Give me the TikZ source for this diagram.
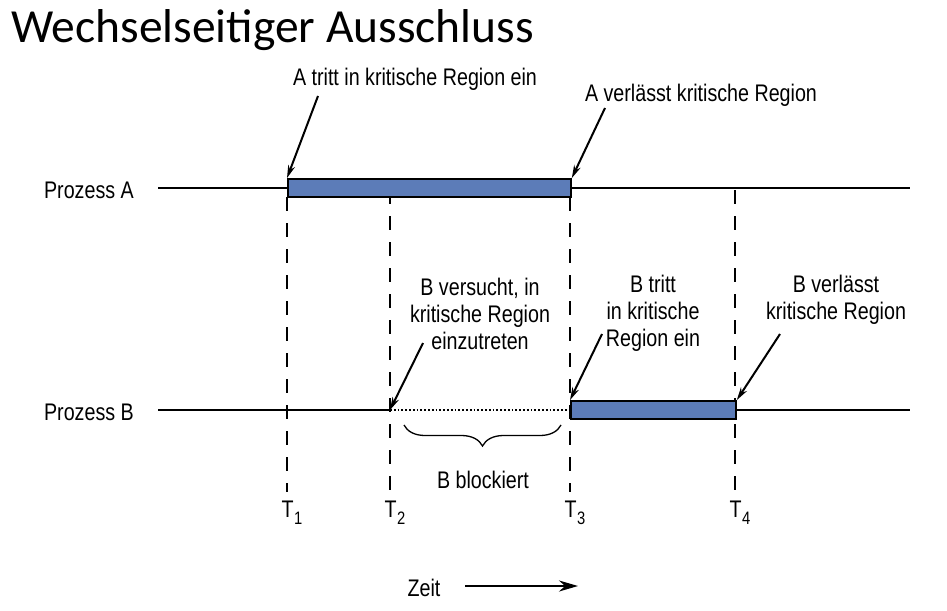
\documentclass[tikz,border=0pt]{standalone}
\usepackage{fontspec}
\setmainfont{Liberation Sans}
\newfontfamily\titlefont{Carlito}
\newfontfamily\lblfont[FakeStretch=0.82]{Liberation Sans}
\usetikzlibrary{arrows.meta,decorations.pathreplacing}
\definecolor{critblue}{RGB}{92,124,184}
\newcommand{\tmark}[1]{T\kern0.5pt\raisebox{-7pt}{\fontsize{18}{18}\selectfont #1}}
\begin{document}
\begin{tikzpicture}[x=1pt,y=-1pt,
  lbl/.style={font=\lblfont\fontsize{24}{27}\selectfont, inner sep=0pt, align=center},
  timeline/.style={line width=1.8pt},
  critbar/.style={draw=black, line width=1.8pt, fill=critblue},
  marker/.style={line width=1.5pt, dash pattern=on 14pt off 12pt},
  pointer/.style={line width=2pt, -{Stealth[length=13pt,width=7pt]}},
]
\useasboundingbox (0,0) rectangle (947,610);

% title
\node[anchor=base west, inner sep=0pt, font=\titlefont\fontsize{47.5}{52}\selectfont] (title) at (11,43) {Wechselseitiger Ausschluss};

% process labels
\node[lbl, anchor=base east] (pa) at (134,198) {Prozess A};
\node[lbl, anchor=base east] (pb) at (134,420) {Prozess B};

% points on the time axes
\coordinate (a0) at (158,188);
\coordinate (a1) at (287,188);
\coordinate (a3) at (570,188);
\coordinate (a4) at (735,188);
\coordinate (aend) at (910,188);
\coordinate (b0) at (158,410);
\coordinate (b2) at (390,410);
\coordinate (b3) at (570,410);
\coordinate (b4) at (735,410);
\coordinate (bend) at (910,410);

% time markers
\foreach \x/\y in {287/197, 390/190, 570/197, 735/190}
  \draw[marker] (\x,\y) -- (\x,492);

% process A
\draw[timeline] (a0) -- (a1);
\draw[timeline] (a3) -- (aend);
\node[critbar, minimum width=283pt, minimum height=18pt, inner sep=0pt, anchor=west] (cra) at (a1) {};

% process B
\draw[timeline] (b0) -- (b2);
\draw[line width=1.8pt, dotted] (b2) -- (b3);
\draw[timeline] (b4) -- (bend);
\node[critbar, minimum width=165pt, minimum height=18pt, inner sep=0pt, anchor=west] (crb) at (b3) {};

% time labels
\node[lbl, anchor=base] (t1) at (292,517) {\tmark{1}};
\node[lbl, anchor=base] (t2) at (395,517) {\tmark{2}};
\node[lbl, anchor=base] (t3) at (575,517) {\tmark{3}};
\node[lbl, anchor=base] (t4) at (740,517) {\tmark{4}};

% annotations
\node[lbl, anchor=base] (ain) at (415,85) {A tritt in kritische Region ein};
\node[lbl, anchor=base] (aout) at (701,101) {A verlässt kritische Region};
\node[lbl, anchor=base] (btry) at (480,349) {B versucht, in\\kritische Region\\einzutreten};
\node[lbl, anchor=base] (bin) at (653,346) {B tritt\\in kritische\\Region ein};
\node[lbl, anchor=base] (bout) at (836,319) {B verlässt\\kritische Region};

\draw[pointer] (318,96) -- (cra.north west);
\draw[pointer] (605,108) -- (cra.north east);
\draw[pointer] (423,343) -- (b2);
\draw[pointer] (602,334) -- (crb.north west);
\draw[pointer] (780,334) -- (crb.north east);

% blocked interval
\draw[line width=1.3pt, decorate, decoration={brace, mirror, amplitude=21pt}] (404,425) -- (561,425);
\node[lbl, anchor=base] (blk) at (483,488) {B blockiert};

% time direction
\node[lbl, anchor=base] (zeit) at (424,596) {Zeit};
\coordinate (zend) at (578,586);
\draw[line width=2pt, -{Stealth[length=19pt,width=11pt]}] (465,586) -- (zend);
\end{tikzpicture}
\end{document}
